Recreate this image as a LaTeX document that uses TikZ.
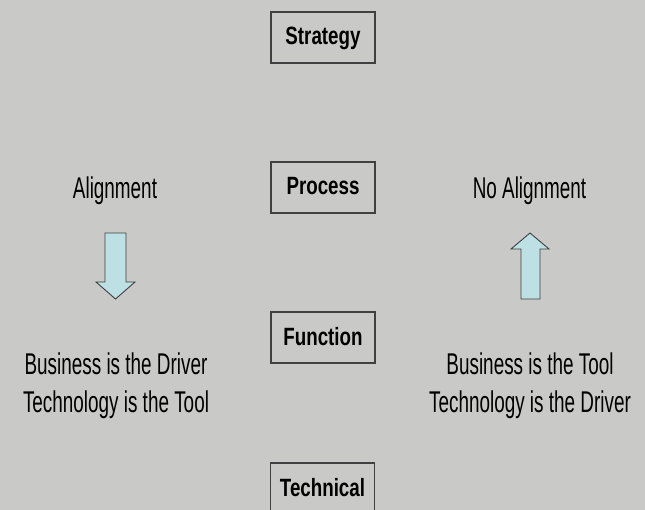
\documentclass[tikz,border=0pt]{standalone}
\usepackage{fontspec}
\setmainfont{Liberation Sans}
\newfontfamily\regfont[FakeStretch=0.63]{Liberation Sans}
\newfontfamily\boxfont[FakeStretch=0.75]{Liberation Sans}
\definecolor{bg}{RGB}{201,201,199}
\definecolor{edge}{RGB}{64,64,64}
\definecolor{arrowfill}{RGB}{188,224,228}
\tikzset{
  layerbox/.style={draw=edge, line width=1.3pt, fill=bg, minimum width=104pt, minimum height=51pt,
    inner sep=0pt, text height=18pt, text depth=3pt, font=\boxfont\bfseries\fontsize{25}{30}\selectfont},
  plain/.style={inner sep=0pt, anchor=base, font=\regfont\fontsize{30}{38}\selectfont},
  blockarrow/.style={draw=edge, line width=0.9pt, fill=arrowfill, line join=miter}
}
\begin{document}
\begin{tikzpicture}[x=1pt, y=-1pt]
\path[use as bounding box, fill=bg] (0,0) rectangle (645,510);
% layer boxes
\node[layerbox] (strategy)  at (323,37.5)  {Strategy};
\node[layerbox] (process)   at (323,187.5) {Process};
\node[layerbox] (function)  at (323,337.5) {Function};
\node[layerbox] (technical) at (322.5,488.5) {Technical};
% left side
\node[plain] (align) at (115,199) {Alignment};
\node[plain] (lbiz)  at (116,374) {Business is the Driver};
\node[plain] (ltech) at (116,412) {Technology is the Tool};
% right side
\node[plain] (noalign) at (529.5,199) {No Alignment};
\node[plain] (rbiz)    at (530,374) {Business is the Tool};
\node[plain] (rtech)   at (530,412) {Technology is the Driver};
% block arrows
\draw[blockarrow] (105,233) -- (126,233) -- (126,282) -- (135,282) -- (115.5,299)
  -- (96,282) -- (105,282) -- cycle;
\draw[blockarrow] (521,299) -- (540,299) -- (540,249) -- (549,249) -- (530,233)
  -- (511,249) -- (521,249) -- cycle;
\end{tikzpicture}
\end{document}
